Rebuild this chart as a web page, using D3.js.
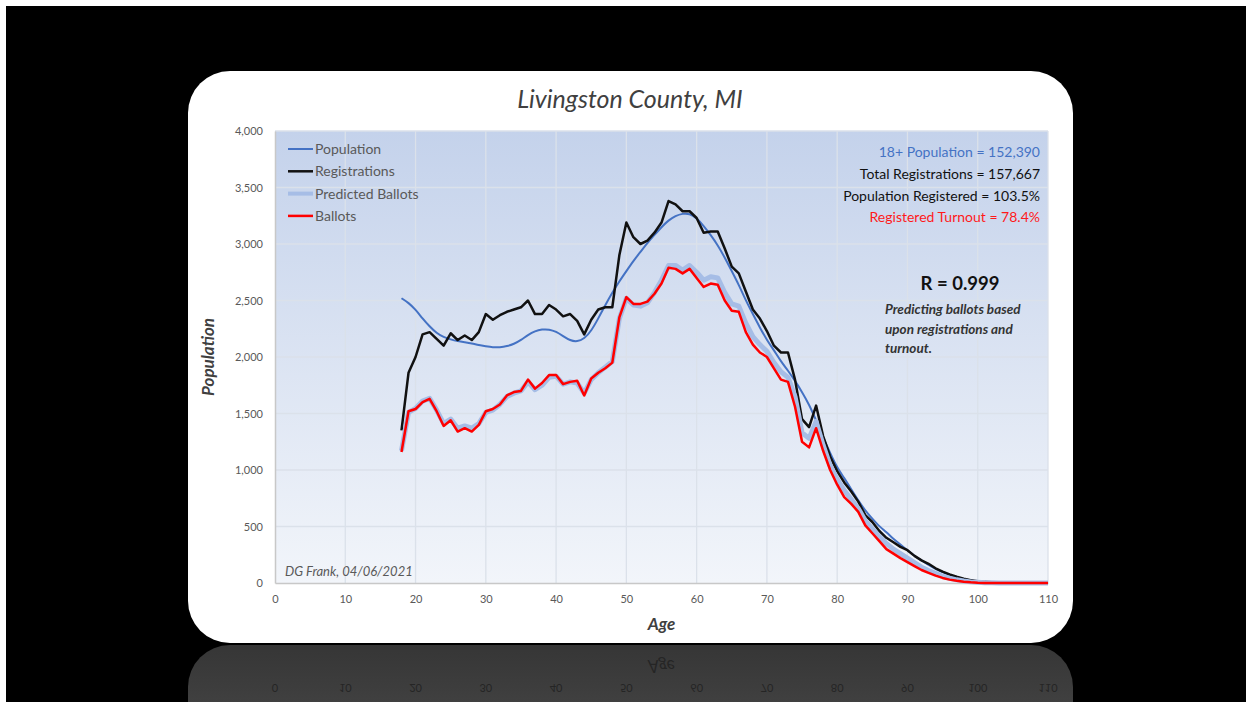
<!DOCTYPE html>
<html>
<head>
<meta charset="utf-8">
<script src="https://cdn.jsdelivr.net/npm/d3@7"></script>
<style>
  body { margin: 0; background: #fff; }
  svg { display: block; font-family: Lato, "Open Sans", sans-serif; }
</style>
</head>
<body>
<div id="chart"></div>
<script>
// ages 18..110
var ages = d3.range(18, 111);

var population = [2520, 2480, 2420, 2340, 2270, 2210, 2175, 2155, 2140, 2130,
  2120, 2105, 2095, 2085, 2085, 2095, 2115, 2150, 2195, 2230,
  2245, 2245, 2225, 2185, 2145, 2135, 2160, 2230, 2340, 2460,
  2570, 2670, 2760, 2850, 2930, 3010, 3080, 3150, 3210, 3250,
  3270, 3270, 3230, 3160, 3080, 2990, 2880, 2760, 2640, 2500,
  2380, 2260, 2150, 2060, 1960, 1880, 1790, 1690, 1580, 1440,
  1290, 1150, 1020, 930, 830, 730, 640, 570, 500, 450,
  390, 340, 290, 240, 200, 160, 125, 95, 70, 50,
  35, 22, 14, 8, 5, 3, 2, 1, 1, 0, 0, 0, 0];

var registrations = [1350, 1860, 2000, 2200, 2220, 2160, 2100, 2210, 2150, 2190,
  2150, 2220, 2380, 2330, 2370, 2400, 2420, 2440, 2500, 2380,
  2380, 2460, 2420, 2360, 2380, 2320, 2200, 2330, 2420, 2440,
  2440, 2900, 3190, 3060, 3000, 3030, 3100, 3190, 3380, 3350,
  3290, 3290, 3230, 3100, 3110, 3110, 2960, 2800, 2740, 2580,
  2420, 2340, 2230, 2100, 2040, 2040, 1800, 1450, 1380, 1570,
  1300, 1120, 990, 890, 810, 720, 600, 540, 460, 400,
  360, 320, 290, 240, 200, 170, 130, 100, 75, 55,
  38, 25, 16, 10, 6, 4, 2, 1, 1, 0, 0, 0, 0];

var predicted = [1170, 1510, 1545, 1610, 1635, 1530, 1410, 1450, 1370, 1390,
  1370, 1410, 1510, 1530, 1580, 1650, 1680, 1700, 1780, 1710,
  1750, 1820, 1830, 1760, 1780, 1770, 1680, 1800, 1860, 1910,
  1960, 2340, 2520, 2460, 2450, 2480, 2570, 2680, 2810, 2810,
  2770, 2810, 2750, 2680, 2710, 2700, 2570, 2470, 2450, 2300,
  2180, 2110, 2050, 1950, 1870, 1820, 1650, 1330, 1280, 1430,
  1220, 1040, 920, 820, 740, 660, 550, 480, 410, 350,
  300, 260, 220, 180, 140, 110, 85, 60, 42, 28,
  18, 10, 6, 3, 2, 1, 1, 0, 0, 0, 0, 0, 0];

var ballots = [1160, 1520, 1540, 1600, 1630, 1520, 1390, 1440, 1340, 1370,
  1340, 1400, 1520, 1540, 1580, 1660, 1690, 1700, 1800, 1720,
  1770, 1840, 1840, 1760, 1780, 1790, 1660, 1810, 1860, 1900,
  1950, 2350, 2530, 2470, 2470, 2490, 2560, 2650, 2790, 2780,
  2740, 2780, 2700, 2620, 2650, 2640, 2500, 2410, 2400, 2220,
  2110, 2040, 2000, 1900, 1800, 1780, 1560, 1250, 1200, 1370,
  1170, 1000, 870, 760, 700, 630, 510, 440, 370, 300,
  260, 220, 185, 150, 115, 90, 65, 45, 30, 20,
  12, 6, 2, 1, 0, 0, 0, 0, 0, 0, 0, 0, 0];

var xTicks = d3.range(0, 111, 10);
var yTicks = d3.range(0, 4001, 500);

var statLines = [
  { text: "18+ Population = 152,390", color: "#4472c4" },
  { text: "Total Registrations = 157,667", color: "#111" },
  { text: "Population Registered = 103.5%", color: "#111" },
  { text: "Registered Turnout = 78.4%", color: "#ff1a1a" }
];
var noteLines = ["Predicting ballots based", "upon registrations and", "turnout."];

var series = [
  { name: "Population", values: population, color: "#4472c4", width: 2, curve: d3.curveBasis },
  { name: "Registrations", values: registrations, color: "#111", width: 2.5, curve: d3.curveLinear },
  { name: "Predicted Ballots", values: predicted, color: "#a6bde6", width: 5, curve: d3.curveLinear },
  { name: "Ballots", values: ballots, color: "#ff0000", width: 2.5, curve: d3.curveLinear }
];

var W = 1252, H = 702;
var svg = d3.select("#chart").append("svg")
  .attr("width", W)
  .attr("height", H);

// black backdrop
svg.append("rect").attr("x", 6).attr("y", 6).attr("width", 1240).attr("height", 696).attr("fill", "#000");

var defs = svg.append("defs");
var bg = defs.append("linearGradient").attr("id", "plotbg").attr("x1", 0).attr("y1", 0).attr("x2", 0).attr("y2", 1);
bg.append("stop").attr("offset", "0%").attr("stop-color", "#c4d2eb");
bg.append("stop").attr("offset", "100%").attr("stop-color", "#f2f5fa");
var rg = defs.append("linearGradient").attr("id", "reflbg").attr("x1", 0).attr("y1", 0).attr("x2", 0).attr("y2", 1);
rg.append("stop").attr("offset", "0%").attr("stop-color", "#363636");
rg.append("stop").attr("offset", "100%").attr("stop-color", "#4e4e4e");

// the reflection below the card
defs.append("clipPath").attr("id", "reflclip")
  .append("rect").attr("x", 0).attr("y", 645).attr("width", W).attr("height", 60);

var refl = svg.append("g").attr("clip-path", "url(#reflclip)");
refl.append("rect")
  .attr("x", 188).attr("y", 645).attr("width", 885).attr("height", 140)
  .attr("rx", 42).attr("fill", "url(#reflbg)");

// card
svg.append("rect")
  .attr("x", 188).attr("y", 71).attr("width", 885).attr("height", 572)
  .attr("rx", 42).attr("fill", "#fff");

var x = d3.scaleLinear().domain([0, 110]).range([275, 1048]);
var y = d3.scaleLinear().domain([0, 4000]).range([583, 131]);

// mirrored axis text in reflection
var mir = refl.append("g").attr("transform", "translate(0,1288) scale(1,-1)");
mir.selectAll("text.t")
  .data(xTicks)
  .enter().append("text")
  .attr("x", d => x(d))
  .attr("y", 604)
  .attr("text-anchor", "middle")
  .attr("font-size", 11)
  .attr("fill", "#252525")
  .text(d => d);
mir.append("text")
  .attr("x", x(55)).attr("y", 628)
  .attr("text-anchor", "middle")
  .attr("font-size", 17).attr("font-style", "italic")
  .attr("fill", "#252525")
  .text("Age");

// plot area
svg.append("rect")
  .attr("x", x(0)).attr("y", y(4000))
  .attr("width", x(110) - x(0)).attr("height", y(0) - y(4000))
  .attr("fill", "url(#plotbg)");

// grid
svg.append("g").selectAll("line")
  .data(yTicks.slice(1))
  .enter().append("line")
  .attr("x1", x(0)).attr("x2", x(110))
  .attr("y1", d => y(d)).attr("y2", d => y(d))
  .attr("stroke", "#dbe1ea").attr("stroke-width", 1.3);
svg.append("g").selectAll("line")
  .data(xTicks.slice(1))
  .enter().append("line")
  .attr("x1", d => x(d)).attr("x2", d => x(d))
  .attr("y1", y(0)).attr("y2", y(4000))
  .attr("stroke", "#dbe1ea").attr("stroke-width", 1.3);

// axes
var yAxis = svg.append("g")
  .attr("transform", "translate(" + x(0) + ",0)")
  .call(d3.axisLeft(y).tickValues(yTicks).tickSize(0).tickPadding(12).tickFormat(d3.format(",")));
var xAxis = svg.append("g")
  .attr("transform", "translate(0," + y(0) + ")")
  .call(d3.axisBottom(x).tickValues(xTicks).tickSize(0).tickPadding(12));
[xAxis, yAxis].forEach(function (a) {
  a.select(".domain").attr("stroke", "#c8c8c8").attr("stroke-width", 1.5);
  a.selectAll("text").attr("fill", "#595959").attr("font-size", 11).attr("font-family", "Lato, sans-serif");
});

// lines
series.forEach(function (s) {
  var line = d3.line()
    .x((d, i) => x(ages[i]))
    .y(d => y(d))
    .curve(s.curve);
  svg.append("path")
    .datum(s.values)
    .attr("d", line)
    .attr("fill", "none")
    .attr("stroke", s.color)
    .attr("stroke-width", s.width)
    .attr("stroke-linejoin", "round");
});

// legend
var leg = svg.append("g").attr("transform", "translate(288,149)");
series.forEach(function (s, i) {
  var g = leg.append("g").attr("transform", "translate(0," + (i * 22.3) + ")");
  g.append("line").attr("x1", 0).attr("x2", 25).attr("y1", 0).attr("y2", 0)
    .attr("stroke", s.color).attr("stroke-width", s.width === 5 ? 4 : s.width);
  g.append("text").attr("x", 27).attr("y", 5)
    .attr("font-size", 14).attr("fill", "#595959").text(s.name);
});

// stats box
svg.append("g").selectAll("text")
  .data(statLines)
  .enter().append("text")
  .attr("x", 1040)
  .attr("y", (d, i) => 157 + i * 21.8)
  .attr("text-anchor", "end")
  .attr("font-size", 14)
  .attr("fill", d => d.color)
  .text(d => d.text);

svg.append("text")
  .attr("x", 960).attr("y", 290)
  .attr("text-anchor", "middle")
  .attr("font-size", 18.5).attr("font-weight", "bold")
  .attr("fill", "#111")
  .text("R = 0.999");
svg.append("g").selectAll("text")
  .data(noteLines)
  .enter().append("text")
  .attr("x", 885)
  .attr("y", (d, i) => 314 + i * 19.5)
  .attr("font-size", 13.5).attr("font-style", "italic").attr("font-weight", "bold")
  .attr("fill", "#333")
  .text(d => d);

svg.append("text")
  .attr("x", 285).attr("y", 576)
  .attr("font-size", 13).attr("font-style", "italic")
  .attr("fill", "#595959")
  .text("DG Frank, 04/06/2021");

// titles
svg.append("text")
  .attr("x", 630).attr("y", 108)
  .attr("text-anchor", "middle")
  .attr("font-size", 25).attr("font-style", "italic")
  .attr("fill", "#404040")
  .text("Livingston County, MI");

svg.append("text")
  .attr("transform", "translate(214," + y(2000) + ") rotate(-90)")
  .attr("text-anchor", "middle")
  .attr("font-size", 17).attr("font-style", "italic").attr("font-weight", "bold")
  .attr("fill", "#404040")
  .text("Population");

svg.append("text")
  .attr("x", x(55)).attr("y", 630)
  .attr("text-anchor", "middle")
  .attr("font-size", 17).attr("font-style", "italic").attr("font-weight", "bold")
  .attr("fill", "#404040")
  .text("Age");
</script>
</body>
</html>
